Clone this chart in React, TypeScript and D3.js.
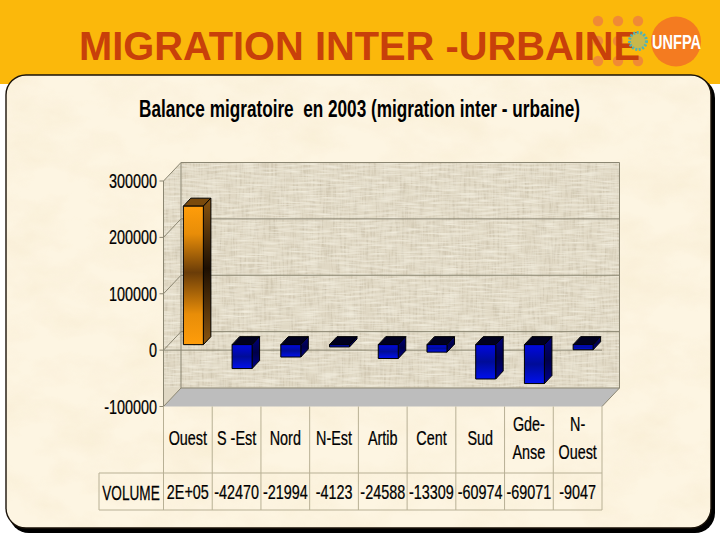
import React from "react";
import * as d3 from "d3";

const categories = ["Ouest", "S -Est", "Nord", "N-Est", "Artib", "Cent", "Sud", "Gde-|Anse", "N-|Ouest"];
const values = [245576, -42470, -21994, -4123, -24588, -13309, -60974, -69071, -9047];
const volumeLabels = ["2E+05", "-42470", "-21994", "-4123", "-24588", "-13309", "-60974", "-69071", "-9047"];
const yTicks = [300000, 200000, 100000, 0, -100000];

const W = 720, H = 540;
const x = d3.scaleBand<string>().domain(categories).range([163.5, 602]);
const y = d3.scaleLinear().domain([-100000, 300000]).range([406.5, 181]);
const wallDx = 17.5, wallDy = -18.5;
const barOffset = 5.5, barW = 20, depthX = 7.5, depthY = -8;

const FONT = "'Liberation Sans', Arial, sans-serif";

function Narrow({ x: tx, y: ty, k = 0.72, size = 20, anchor = "middle", children }: any) {
  return (
    <text transform={`translate(${tx},${ty}) scale(${k},1)`} fontSize={size} textAnchor={anchor}
      fontFamily={FONT} fill="#000" stroke="#000" strokeWidth={0.25} xmlSpace="preserve">{children}</text>
  );
}

const pts = (a: number[][]) => a.map((p) => p.join(",")).join(" ");

export default function App() {
  const xL = x.range()[0], xR = x.range()[1];
  const yT = y(300000), yB = y(-100000);
  const tableTop = yB, headBottom = 473, rowBottom = 510, tableLeft = 99;
  return (
    <svg width={W} height={H} viewBox={`0 0 ${W} ${H}`}
      style={{ position: "absolute", left: 0, top: 0, display: "block" }}>
      <defs>
        <filter id="parch" x="0" y="0" width="100%" height="100%">
          <feTurbulence type="fractalNoise" baseFrequency="0.018 0.03" numOctaves={4} seed={7} />
          <feColorMatrix type="matrix" values="0 0 0 0 0.86  0 0 0 0 0.72  0 0 0 0 0.46  0.9 0 0 0 -0.34" />
        </filter>
        <filter id="weave" x="0" y="0" width="100%" height="100%">
          <feTurbulence type="fractalNoise" baseFrequency="0.45 0.05" numOctaves={2} seed={3} result="a" />
          <feColorMatrix in="a" type="matrix" values="0 0 0 0 0.50  0 0 0 0 0.44  0 0 0 0 0.32  1.6 0 0 0 -0.66" result="va" />
          <feTurbulence type="fractalNoise" baseFrequency="0.05 0.45" numOctaves={2} seed={11} result="b" />
          <feColorMatrix in="b" type="matrix" values="0 0 0 0 1  0 0 0 0 0.98  0 0 0 0 0.88  1.6 0 0 0 -0.6" result="vb" />
          <feMerge><feMergeNode in="va" /><feMergeNode in="vb" /></feMerge>
        </filter>
        <linearGradient id="orangeFront" x1="0" y1="0" x2="0" y2="1">
          <stop offset="0" stopColor="#ff9d0a" />
          <stop offset="0.2" stopColor="#e88d08" />
          <stop offset="0.48" stopColor="#6a3c08" />
          <stop offset="0.78" stopColor="#e88d08" />
          <stop offset="1" stopColor="#ff9d0a" />
        </linearGradient>
        <linearGradient id="orangeSide" x1="0" y1="0" x2="0" y2="1">
          <stop offset="0" stopColor="#8a5510" />
          <stop offset="0.48" stopColor="#1d0f02" />
          <stop offset="1" stopColor="#8a5510" />
        </linearGradient>
        <linearGradient id="blueFront" x1="0" y1="0" x2="0" y2="1">
          <stop offset="0" stopColor="#0008e0" />
          <stop offset="0.5" stopColor="#000c98" />
          <stop offset="1" stopColor="#0010ee" />
        </linearGradient>
        <linearGradient id="blueSide" x1="0" y1="0" x2="0" y2="1">
          <stop offset="0" stopColor="#00007a" />
          <stop offset="0.5" stopColor="#00004a" />
          <stop offset="1" stopColor="#00008a" />
        </linearGradient>
      </defs>

      <rect x={0} y={0} width={W} height={H} fill="#fff" />
      <rect x={0} y={0} width={W} height={84} fill="#fbb80b" />

      {/* panel */}
      <rect x={9} y={78} width={706} height={455} rx={20} fill="#000" />
      <rect x={6} y={75} width={705} height={453} rx={20} fill="#fdf5e2" stroke="#1a1208" strokeWidth={1.4} />
      <rect x={7} y={76} width={703} height={451} rx={19} fill="#000" filter="url(#parch)" opacity={0.5}
        style={{ clipPath: "inset(0 round 19px)" }} />

      {/* header */}
      <g fill="#f08a36">
        {[598, 618, 638].flatMap((cx) => [21, 41, 61].map((cy) => (
          <circle key={`${cx}-${cy}`} cx={cx} cy={cy} r={5.2} />
        )))}
      </g>
      <text x={79} y={60} fontFamily={FONT} fontWeight="bold" fontSize={40} fill="#c8400a"
        textLength={561} lengthAdjust="spacingAndGlyphs">MIGRATION INTER -URBAINE</text>
      <circle cx={676} cy={41.5} r={25} fill="#f47b20" />
      <circle cx={638} cy={41} r={8.5} fill="#c9b84a" stroke="#4fb3b5" strokeWidth={3} strokeDasharray="2 1.5" />
      <text x={652} y={49} fontFamily={FONT} fontWeight="bold" fontSize={20} fill="#fff"
        textLength={49} lengthAdjust="spacingAndGlyphs">UNFPA</text>

      {/* chart title */}
      <text x={139} y={117} fontFamily={FONT} fontWeight="bold" fontSize={24} fill="#000" xmlSpace="preserve"
        textLength={441} lengthAdjust="spacingAndGlyphs">Balance migratoire  en 2003 (migration inter - urbaine)</text>

      {/* walls */}
      <polygon points={pts([[xL + wallDx, yT + wallDy], [xR + wallDx, yT + wallDy], [xR + wallDx, yB + wallDy], [xL + wallDx, yB + wallDy]])} fill="#e0d8c4" />
      <polygon points={pts([[xL, yT], [xL + wallDx, yT + wallDy], [xL + wallDx, yB + wallDy], [xL, yB]])} fill="#e0d8c4" />
      <rect x={xL} y={yT + wallDy} width={xR + wallDx - xL} height={yB - yT - wallDy - 19} fill="#000" filter="url(#weave)" opacity={0.7}
        style={{ clipPath: `polygon(${17.5}px 0, 100% 0, 100% 100%, 0 100%, 0 18.5px)` }} />
      <polygon points={pts([[xL, yB], [xL + wallDx, yB + wallDy], [xR + wallDx, yB + wallDy], [xR, yB]])} fill="#bdbdbd" />

      {/* gridlines */}
      <g stroke="#8b8672" strokeWidth={1} fill="none">
        {yTicks.map((t) => (
          <polyline key={t} points={pts([[xL - 4, y(t)], [xL, y(t)], [xL + wallDx, y(t) + wallDy], [xR + wallDx, y(t) + wallDy]])} />
        ))}
        <line x1={xL} y1={y(0)} x2={xR} y2={y(0)} />
        <line x1={xL} y1={yT} x2={xL} y2={yB} />
        <line x1={xL + wallDx} y1={yT + wallDy} x2={xL + wallDx} y2={yB + wallDy} />
        <line x1={xR + wallDx} y1={yT + wallDy} x2={xR + wallDx} y2={yB + wallDy} />
        <line x1={xR} y1={yB} x2={xR + wallDx} y2={yB + wallDy} />
      </g>

      {/* bars */}
      {categories.map((c, i) => {
        const v = values[i];
        const x0 = x(c)! + (x.bandwidth() - barW) / 2 + barOffset;
        const x1 = x0 + barW;
        const base = y(0) - 5.5;
        const scaleH = y(0) - y(Math.abs(v));
        const top = v >= 0 ? base - scaleH : base;
        const bot = v >= 0 ? base : base + scaleH;
        const pos = v >= 0;
        return (
          <g key={c} stroke="#000" strokeWidth={1} strokeLinejoin="round">
            <polygon points={pts([[x0, top], [x0 + depthX, top + depthY], [x1 + depthX, top + depthY], [x1, top]])}
              fill={pos ? "#7a4a0c" : "#00001e"} />
            <polygon points={pts([[x1, top], [x1 + depthX, top + depthY], [x1 + depthX, bot + depthY], [x1, bot]])}
              fill={pos ? "url(#orangeSide)" : "url(#blueSide)"} />
            <rect x={x0} y={top} width={barW} height={bot - top} fill={pos ? "url(#orangeFront)" : "url(#blueFront)"} />
          </g>
        );
      })}

      {/* y axis labels */}
      {yTicks.map((t) => (
        <Narrow key={t} x={157} y={y(t) + 7} anchor="end">{String(t)}</Narrow>
      ))}

      {/* data table */}
      <g stroke="#b8b095" strokeWidth={1} fill="none">
        <line x1={xL} y1={tableTop} x2={xL} y2={rowBottom} />
        {categories.map((c) => (
          <line key={c} x1={x(c)! + x.bandwidth()} y1={tableTop} x2={x(c)! + x.bandwidth()} y2={rowBottom} />
        ))}
        <line x1={tableLeft} y1={headBottom} x2={xR} y2={headBottom} />
        <line x1={tableLeft} y1={rowBottom} x2={xR} y2={rowBottom} />
        <line x1={tableLeft} y1={headBottom} x2={tableLeft} y2={rowBottom} />
      </g>
      {categories.map((c, i) => {
        const cx = x(c)! + x.bandwidth() / 2;
        const parts = c.split("|");
        return (
          <g key={c}>
            {parts.length === 1
              ? <Narrow x={cx} y={445}>{c}</Narrow>
              : parts.map((p, j) => <Narrow key={p} x={cx} y={431 + j * 28}>{p}</Narrow>)}
            <Narrow x={cx} y={499}>{volumeLabels[i]}</Narrow>
          </g>
        );
      })}
      <Narrow x={131} y={500} k={0.68}>VOLUME</Narrow>
    </svg>
  );
}
